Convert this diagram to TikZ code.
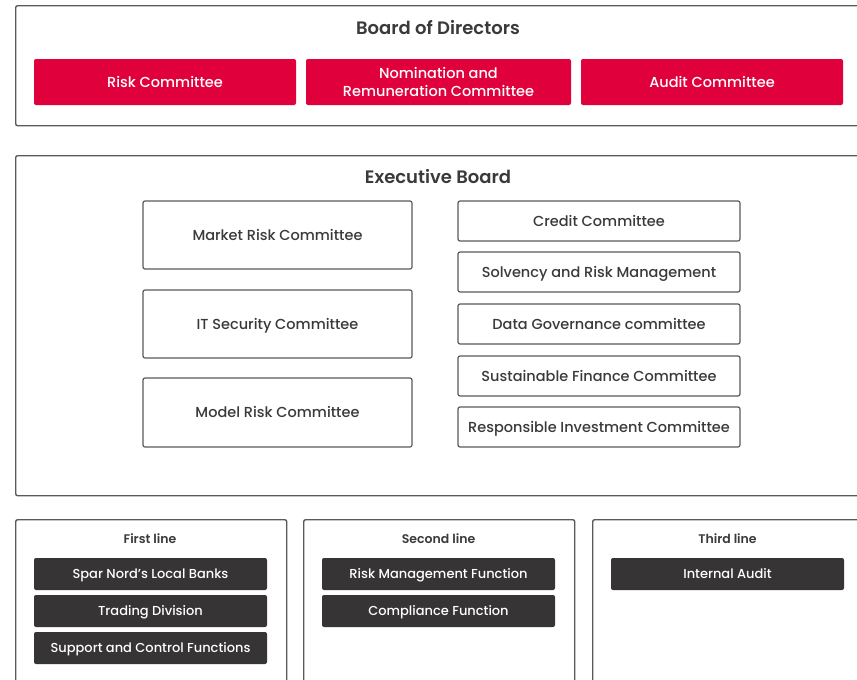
\documentclass[tikz,border=0pt]{standalone}
\usepackage{fontspec}
\setmainfont{Poppins}[UprightFont=* Medium,BoldFont=* SemiBold]
\definecolor{redc}{HTML}{E0003C}
\definecolor{darkc}{HTML}{363434}
\definecolor{linec}{HTML}{5A5A5A}
\definecolor{textc}{HTML}{3A3A3A}
\begin{document}
\begin{tikzpicture}[x=1pt,y=-1pt,
  panel/.style={draw=linec,line width=1.4pt,rounded corners=2pt,fill=white},
  ptitle/.style={text height=12.6pt,text depth=0pt,font=\fontsize{18}{21}\selectfont\bfseries,text=textc},
  ltitle/.style={text height=8.8pt,text depth=0pt,font=\fontsize{12.5}{15}\selectfont\bfseries,text=textc},
  redbox/.style={fill=redc,text=white,rounded corners=2pt,inner sep=0pt,align=center,
    font=\fontsize{14.5}{18.5}\selectfont,minimum height=46pt},
  wbox/.style={text height=10.2pt,text depth=0pt,draw=linec,line width=1.2pt,rounded corners=2pt,inner sep=0pt,text=textc,
    font=\fontsize{14.5}{18}\selectfont},
  dbox/.style={text height=9.1pt,text depth=0pt,fill=darkc,text=white,rounded corners=2pt,inner sep=0pt,
    font=\fontsize{13}{16}\selectfont,minimum width=233pt,minimum height=32pt}]
\clip (0,0) rectangle (857,680);
\fill[white] (0,0) rectangle (857,680);
% panels
\node[panel,anchor=north west,minimum width=870pt,minimum height=120pt] (bod) at (15,5) {};
\node[panel,anchor=north west,minimum width=870pt,minimum height=340pt] (exb) at (15,155) {};
\node[panel,anchor=north west,minimum width=271pt,minimum height=200pt] (p1) at (15,519) {};
\node[panel,anchor=north west,minimum width=271pt,minimum height=200pt] (p2) at (303,519) {};
\node[panel,anchor=north west,minimum width=290pt,minimum height=200pt] (p3) at (592,519) {};
% titles
\node[ptitle] (tbod) at (438,28) {Board of Directors};
\node[ptitle] (texb) at (438,177) {Executive Board};
\node[ltitle] (t1) at (150,539) {First line};
\node[ltitle] (t2) at (438.5,539) {Second line};
\node[ltitle] (t3) at (727.5,539) {Third line};
% board committees
\node[redbox,minimum width=262pt] (risk) at (165,82) {Risk Committee};
\node[redbox,minimum width=265pt] (nom) at (438.5,82) {Nomination and\\Remuneration Committee};
\node[redbox,minimum width=262pt] (aud) at (712,82) {Audit Committee};
% executive committees left
\node[wbox,minimum width=269pt,minimum height=68pt] (mrc) at (277.5,235) {Market Risk Committee};
\node[wbox,minimum width=269pt,minimum height=68pt] (itc) at (277.5,324) {IT Security Committee};
\node[wbox,minimum width=269pt,minimum height=69pt] (mod) at (277.5,412.5) {Model Risk Committee};
% executive committees right
\node[wbox,minimum width=282pt,minimum height=40pt] (cc) at (599,221) {Credit Committee};
\node[wbox,minimum width=282pt,minimum height=40pt] (srm) at (599,272) {Solvency and Risk Management};
\node[wbox,minimum width=282pt,minimum height=40pt] (dgc) at (599,324) {Data Governance committee};
\node[wbox,minimum width=282pt,minimum height=40pt] (sfc) at (599,376) {Sustainable Finance Committee};
\node[wbox,minimum width=282pt,minimum height=40pt] (ric) at (599,427) {Responsible Investment Committee};
% lines of defence
\node[dbox] (lb) at (150.5,574) {Spar Nord’s Local Banks};
\node[dbox] (td) at (150.5,611) {Trading Division};
\node[dbox] (scf) at (150.5,648) {Support and Control Functions};
\node[dbox] (rmf) at (438.5,574) {Risk Management Function};
\node[dbox] (cf) at (438.5,611) {Compliance Function};
\node[dbox] (ia) at (727.5,574) {Internal Audit};
\end{tikzpicture}
\end{document}
